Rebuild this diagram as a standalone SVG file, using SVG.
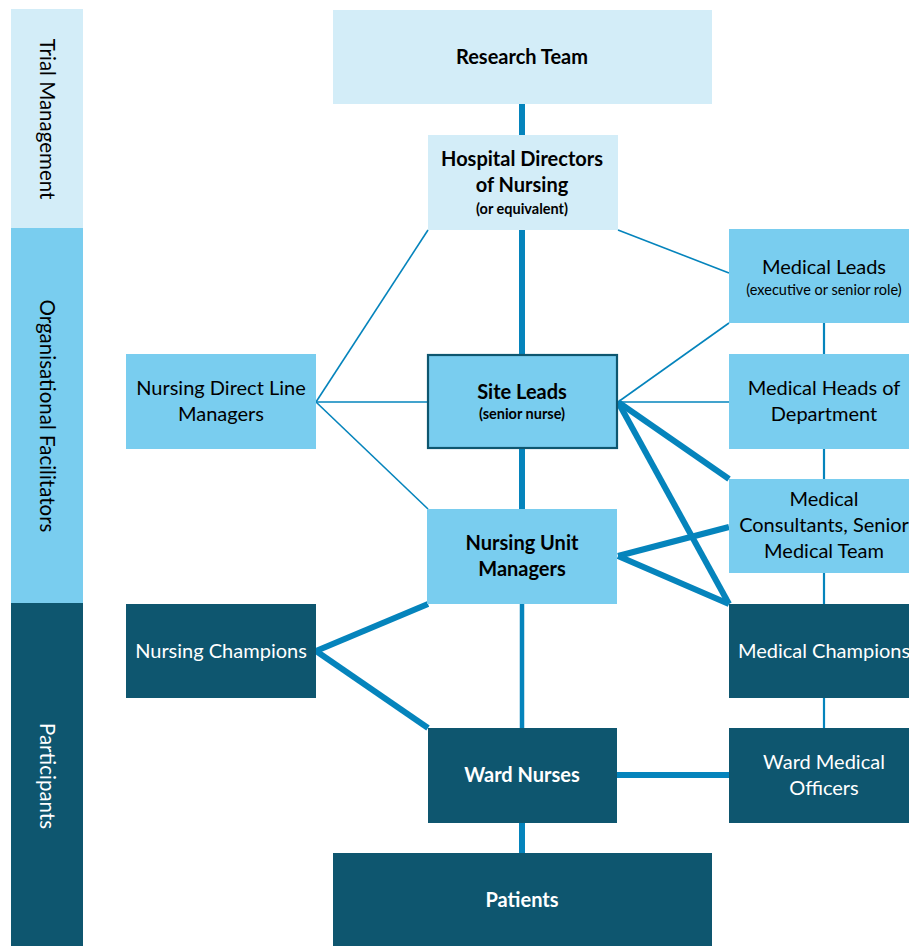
<svg xmlns="http://www.w3.org/2000/svg" width="909" height="947" viewBox="0 0 909 947">
<style>
.l{fill:#d3edf8}.m{fill:#79cdef}.d{fill:#0e566f}
text{font-family:Lato,"Liberation Sans",sans-serif;font-size:20px;text-anchor:middle;fill:#000}
.b{font-weight:bold}.s{font-size:14.5px}.w{fill:#fff}.bl{font-size:20.5px}
.c line{stroke:#0584bc;stroke-linecap:butt}
.t1{stroke-width:1.6}.t2{stroke-width:2.2}.t4{stroke-width:4.5}.t6{stroke-width:6}
</style>
<rect width="909" height="947" fill="#fff"/>
<g id="bands">
<rect class="l" x="11" y="9" width="72" height="219"/>
<rect class="m" x="11" y="228" width="72" height="375"/>
<rect class="d" x="11" y="603" width="72" height="343"/>
<text class="bl" transform="translate(40,119) rotate(90)">Trial Management</text>
<text class="bl" transform="translate(40,416) rotate(90)">Organisational Facilitators</text>
<text class="bl w" transform="translate(40,776) rotate(90)">Participants</text>
</g>
<g class="c">
<line class="t6" x1="522" y1="104" x2="522" y2="135"/>
<line class="t6" x1="522" y1="230" x2="522" y2="354"/>
<line class="t6" x1="522" y1="449" x2="522" y2="509"/>
<line class="t4" x1="522" y1="604" x2="522" y2="728"/>
<line class="t6" x1="522" y1="823" x2="522" y2="853"/>
<line class="t1" x1="428" y1="230" x2="316" y2="402"/>
<line class="t1" x1="316" y1="402" x2="427" y2="402"/>
<line class="t1" x1="316" y1="402" x2="428" y2="509"/>
<line class="t1" x1="618" y1="230" x2="729" y2="273"/>
<line class="t1" x1="618" y1="402" x2="729" y2="323"/>
<line class="t1" x1="618" y1="402" x2="729" y2="402"/>
<line class="t6" x1="618" y1="402" x2="729" y2="479"/>
<line class="t6" x1="618" y1="402" x2="729" y2="604"/>
<line class="t6" x1="618" y1="556" x2="729" y2="527"/>
<line class="t6" x1="618" y1="556" x2="729" y2="604"/>
<line class="t2" x1="824" y1="323" x2="824" y2="354"/>
<line class="t2" x1="824" y1="449" x2="824" y2="479"/>
<line class="t2" x1="824" y1="573" x2="824" y2="604"/>
<line class="t2" x1="824" y1="698" x2="824" y2="728"/>
<line class="t6" x1="316" y1="651" x2="428" y2="604"/>
<line class="t6" x1="316" y1="651" x2="428" y2="728"/>
<line class="t6" x1="617" y1="775" x2="729" y2="775"/>
</g>
<g id="research"><rect class="l" x="333" y="10" width="379" height="94"/><text class="b" x="522" y="64">Research Team</text></g>
<g id="hdn"><rect class="l" x="428" y="135" width="190" height="95"/><text class="b" x="522" y="166">Hospital Directors</text><text class="b" x="522" y="192">of Nursing</text><text class="b s" x="522" y="214">(or equivalent)</text></g>
<g id="site"><rect class="m" x="428" y="355" width="189" height="93" stroke="#0e566f" stroke-width="2.2"/><text class="b" x="522" y="399">Site Leads</text><text class="b s" x="522" y="419">(senior nurse)</text></g>
<g id="num"><rect class="m" x="427" y="509" width="190" height="95"/><text class="b" x="522" y="550">Nursing Unit</text><text class="b" x="522" y="576">Managers</text></g>
<g id="ndlm"><rect class="m" x="126" y="354" width="190" height="95"/><text x="221" y="395">Nursing Direct Line</text><text x="221" y="421">Managers</text></g>
<g id="ml"><rect class="m" x="729" y="229" width="190" height="94"/><text x="824" y="274">Medical Leads</text><text class="s" x="824" y="295">(executive or senior role)</text></g>
<g id="mhd"><rect class="m" x="729" y="354" width="190" height="95"/><text x="824" y="395">Medical Heads of</text><text x="824" y="421">Department</text></g>
<g id="mc"><rect class="m" x="729" y="479" width="190" height="94"/><text x="824" y="506">Medical</text><text x="824" y="532">Consultants, Senior</text><text x="824" y="558">Medical Team</text></g>
<g id="mch"><rect class="d" x="729" y="604" width="190" height="94"/><text class="w" x="824" y="658">Medical Champions</text></g>
<g id="wmo"><rect class="d" x="729" y="728" width="190" height="95"/><text class="w" x="824" y="769">Ward Medical</text><text class="w" x="824" y="795">Officers</text></g>
<g id="nc"><rect class="d" x="126" y="604" width="190" height="94"/><text class="w" x="221" y="658">Nursing Champions</text></g>
<g id="wn"><rect class="d" x="428" y="728" width="189" height="95"/><text class="w b" x="522" y="782">Ward Nurses</text></g>
<g id="patients"><rect class="d" x="333" y="853" width="379" height="93"/><text class="w b" x="522" y="907">Patients</text></g>
</svg>
